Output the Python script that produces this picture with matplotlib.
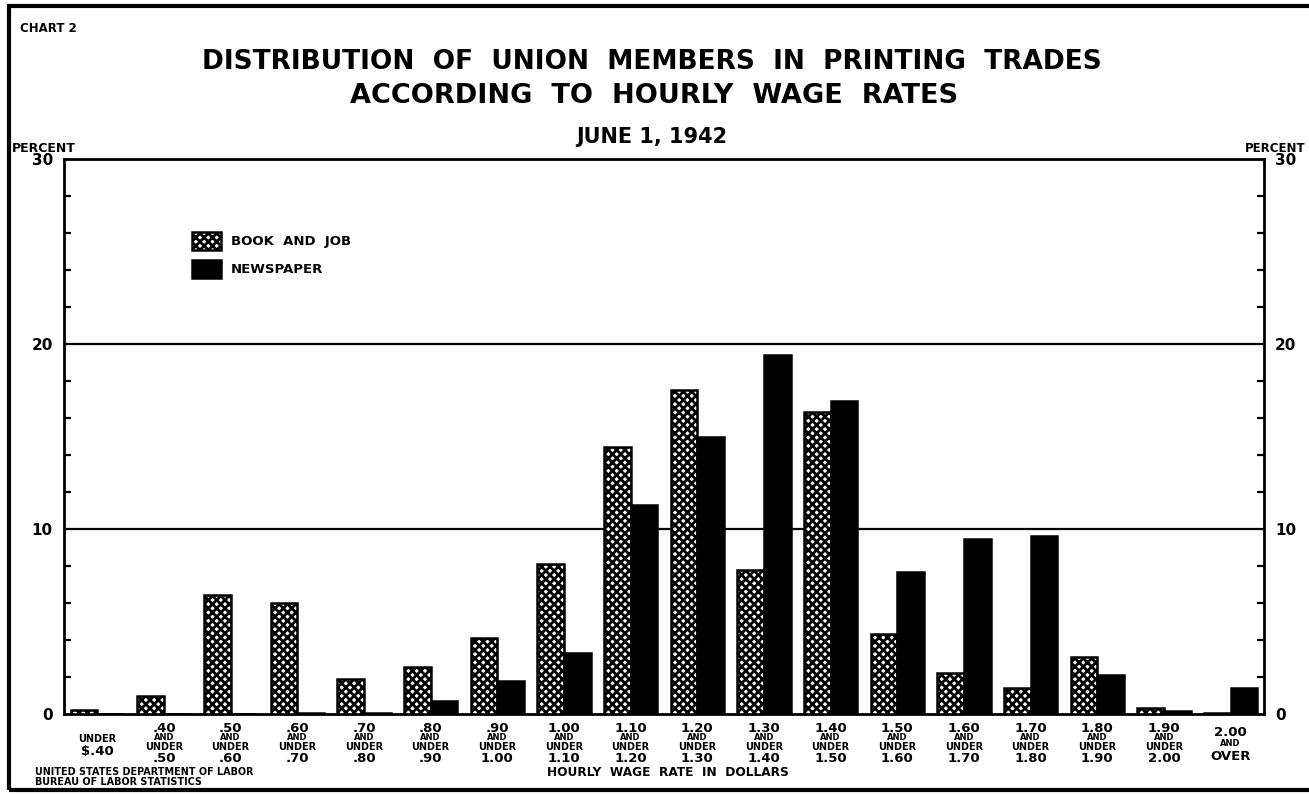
import numpy as np
import matplotlib
matplotlib.use("Agg")
import matplotlib.pyplot as plt
from matplotlib.patches import Rectangle
from matplotlib.ticker import MultipleLocator
from matplotlib import transforms

# Wage rate classes (tick labels, one line per entry)
wage_labels = [
    ["UNDER", "$.40"],
    [".40", "AND", "UNDER", ".50"],
    [".50", "AND", "UNDER", ".60"],
    [".60", "AND", "UNDER", ".70"],
    [".70", "AND", "UNDER", ".80"],
    [".80", "AND", "UNDER", ".90"],
    [".90", "AND", "UNDER", "1.00"],
    ["1.00", "AND", "UNDER", "1.10"],
    ["1.10", "AND", "UNDER", "1.20"],
    ["1.20", "AND", "UNDER", "1.30"],
    ["1.30", "AND", "UNDER", "1.40"],
    ["1.40", "AND", "UNDER", "1.50"],
    ["1.50", "AND", "UNDER", "1.60"],
    ["1.60", "AND", "UNDER", "1.70"],
    ["1.70", "AND", "UNDER", "1.80"],
    ["1.80", "AND", "UNDER", "1.90"],
    ["1.90", "AND", "UNDER", "2.00"],
    ["2.00", "AND", "OVER"],
]

# Percent of union members in each class
book_and_job = [0.2, 0.95, 6.45, 6.0, 1.9, 2.55, 4.1, 8.1, 14.45, 17.5,
                7.8, 16.3, 4.35, 2.2, 1.4, 3.1, 0.35, 0.05]
newspaper = [0.0, 0.0, 0.0, 0.05, 0.05, 0.7, 1.8, 3.3, 11.3, 14.95,
             19.4, 16.9, 7.7, 9.45, 9.6, 2.1, 0.18, 1.4]

plt.rcParams["font.family"] = "DejaVu Sans"
plt.rcParams["font.weight"] = "bold"
plt.rcParams["hatch.linewidth"] = 2.0

W, H = 1309, 794
fig = plt.figure(figsize=(W / 100, H / 100), dpi=100)

def fx(px):
    return px / W

def fy(py):
    return 1 - py / H

ax = fig.add_axes([fx(64), fy(714), fx(1264) - fx(64), fy(159) - fy(714)])

x = np.arange(len(wage_labels))
bw = 0.4
ax.bar(x - bw / 2, book_and_job, bw, facecolor="white", edgecolor="black",
       hatch="xxxx", linewidth=1.8, zorder=3, label="BOOK  AND  JOB")
ax.bar(x + bw / 2, newspaper, bw, facecolor="black", edgecolor="black",
       linewidth=1.8, zorder=3, label="NEWSPAPER")

# horizontal rules at 10 and 20
for yv in (10, 20):
    ax.axhline(yv, color="black", linewidth=1.6, zorder=1)

ax.set_xlim(-0.5, len(wage_labels) - 0.5)
ax.set_ylim(0, 30)
for s in ax.spines.values():
    s.set_linewidth(2)

ax.set_xticks([])
ax.yaxis.set_major_locator(MultipleLocator(10))
ax.yaxis.set_minor_locator(MultipleLocator(2))
ax.tick_params(axis="y", which="major", length=0, labelsize=11, pad=8,
               left=True, right=True, labelleft=True, labelright=True)
ax.tick_params(axis="y", which="minor", direction="in", length=5, width=1.6,
               left=True, right=True)
for lab in ax.get_yticklabels():
    lab.set_fontweight("bold")

# multi-line wage class labels under each pair of bars
trans = transforms.blended_transform_factory(ax.transData, fig.transFigure)
for i, lines in enumerate(wage_labels):
    if len(lines) == 4:
        ys = [729, 738, 747, 759]
    elif lines[0] == "UNDER":
        ys = [739, 751]
    else:
        ys = [732, 744, 757]
    for line, yp in zip(lines, ys):
        if line == "AND":
            fs = 6
        elif line == "UNDER":
            fs = 7
        else:
            fs = 9.5
        ax.text(i, fy(yp), line, transform=trans, ha="center", va="center",
                fontsize=fs, fontweight="bold")

ax.legend(loc="upper left",
          bbox_to_anchor=(fx(204) - fx(64), (fy(232) - fy(714)) / (fy(159) - fy(714))),
          bbox_transform=ax.transAxes, frameon=False, fontsize=9.5,
          handlelength=2.2, handleheight=1.7, handletextpad=0.7,
          labelspacing=0.75, borderaxespad=0, borderpad=0)
for t in ax.get_legend().get_texts():
    t.set_fontweight("bold")

# titles and notes
fig.text(fx(20), fy(28), "CHART 2", fontsize=8.5, fontweight="bold", va="center")
fig.text(fx(652), fy(62), "DISTRIBUTION  OF  UNION  MEMBERS  IN  PRINTING  TRADES",
         fontsize=19, fontweight="bold", ha="center", va="center")
fig.text(fx(654), fy(96), "ACCORDING  TO  HOURLY  WAGE  RATES",
         fontsize=19.5, fontweight="bold", ha="center", va="center")
fig.text(fx(652), fy(137), "JUNE 1, 1942", fontsize=15, fontweight="bold",
         ha="center", va="center")
fig.text(fx(12), fy(149), "PERCENT", fontsize=9, fontweight="bold", va="center")
fig.text(fx(1306), fy(149), "PERCENT", fontsize=8.5, fontweight="bold",
         ha="right", va="center")
fig.text(fx(668), fy(773), "HOURLY  WAGE  RATE  IN  DOLLARS", fontsize=8.7,
         fontweight="bold", ha="center", va="center")
fig.text(fx(35), fy(777), "UNITED STATES DEPARTMENT OF LABOR\nBUREAU OF LABOR STATISTICS",
         fontsize=6.9, fontweight="bold", va="center", linespacing=0.95)

# frame around the chart
fig.patches.append(Rectangle((fx(9), fy(790)), 1.1, fy(6) - fy(790),
                             transform=fig.transFigure, fill=False,
                             edgecolor="black", linewidth=3))

fig.savefig("out.png", dpi=100)
